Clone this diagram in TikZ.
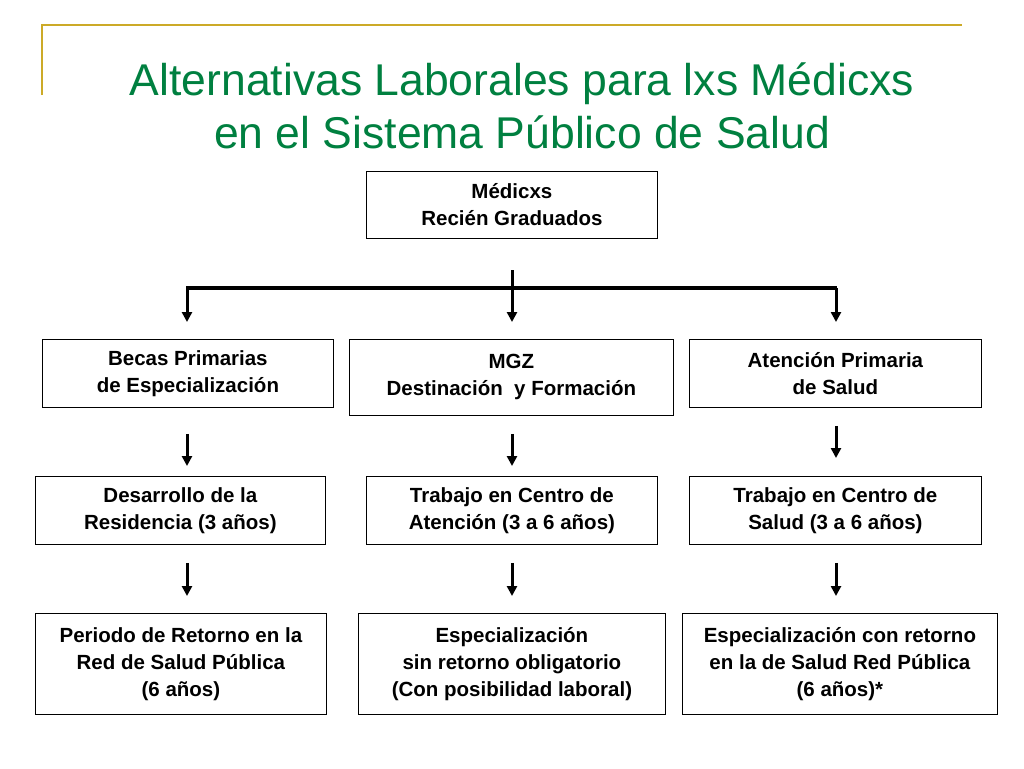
\documentclass[tikz,border=0pt]{standalone}
\usepackage{fontspec}
\setmainfont{Liberation Sans}
\usetikzlibrary{arrows.meta}
\definecolor{gold}{RGB}{204,170,40}
\definecolor{ttl}{RGB}{0,128,64}
\begin{document}
\begin{tikzpicture}[x=1pt,y=-1pt,
  bx/.style={draw,line width=0.8pt,anchor=north west,inner sep=0pt,align=center,font=\fontsize{20.5}{27}\selectfont\bfseries},
  ar/.style={line width=3pt,-{Triangle[length=10pt,width=10pt]}}]
\useasboundingbox (0,0) rectangle (1024,768);
\fill[white] (0,0) rectangle (1024,768);
\draw[gold,line width=1.5pt] (42,95) -- (42,25) -- (962,25);
\node[ttl,align=center,font=\fontsize{44.5}{53}\selectfont] (title) at (522,106) {Alternativas Laborales para lxs Médicxs\\en el Sistema Público de Salud};
\node[bx,minimum width=291pt,minimum height=67pt] (top) at (366,171) {Médicxs\\Recién Graduados};
\node[bx,minimum width=291pt,minimum height=68pt] (a1) at (42,339) {Becas Primarias\\de Especialización};
\node[bx,minimum width=324pt,minimum height=76pt] (b1) at (349,339) {MGZ\\Destinación~ y Formación};
\node[bx,minimum width=292pt,minimum height=68pt] (c1) at (689,339) {Atención Primaria\\de Salud};
\node[bx,minimum width=290pt,minimum height=68pt] (a2) at (35,476) {Desarrollo de la\\Residencia (3 años)};
\node[bx,minimum width=291pt,minimum height=68pt] (b2) at (366,476) {Trabajo en Centro de\\Atención (3 a 6 años)};
\node[bx,minimum width=292pt,minimum height=68pt] (c2) at (689,476) {Trabajo en Centro de\\Salud (3 a 6 años)};
\node[bx,minimum width=291pt,minimum height=101pt] (a3) at (35,613) {Periodo de Retorno en la\\Red de Salud Pública\\(6 años)};
\node[bx,minimum width=307pt,minimum height=101pt] (b3) at (358,613) {Especialización\\sin retorno obligatorio\\(Con posibilidad laboral)};
\node[bx,minimum width=315pt,minimum height=101pt] (c3) at (682,613) {Especialización con retorno\\en la de Salud Red Pública\\(6 años)*};
\coordinate (bl) at (187,288);
\coordinate (bm) at (512,270);
\coordinate (br) at (836,288);
\draw[line width=4pt] ([xshift=-1pt]bl) -- ([xshift=1pt]br);
\draw[ar] (bl) -- ([yshift=17pt]bl |- a1.north);
\draw[ar] (bm) -- ([yshift=17pt]bm |- b1.north);
\draw[ar] (br) -- ([yshift=17pt]br |- c1.north);
\draw[ar] ([yshift=-26pt]bl |- a1.south) -- ([yshift=10pt]bl |- a2.north);
\draw[ar] ([yshift=-18pt]bm |- b1.south) -- ([yshift=10pt]bm |- b2.north);
\draw[ar] ([yshift=-18pt]br |- c1.south) -- ([yshift=18pt]br |- c2.north);
\draw[ar] ([yshift=-18pt]bl |- a2.south) -- ([yshift=17pt]bl |- a3.north);
\draw[ar] ([yshift=-18pt]bm |- b2.south) -- ([yshift=17pt]bm |- b3.north);
\draw[ar] ([yshift=-18pt]br |- c2.south) -- ([yshift=17pt]br |- c3.north);
\end{tikzpicture}
\end{document}
